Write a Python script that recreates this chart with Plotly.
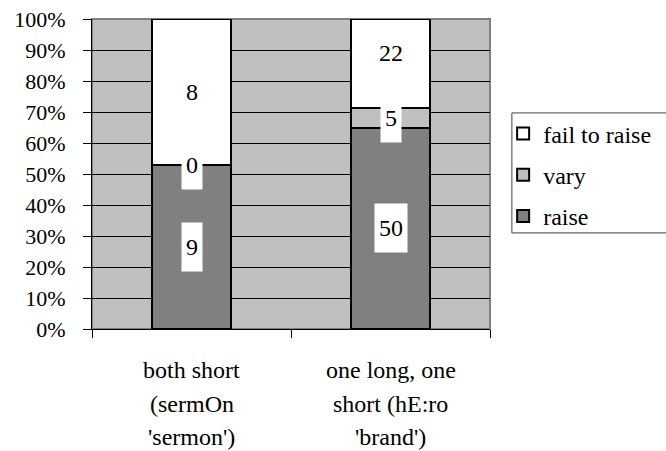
import plotly.graph_objects as go

# DATA ######################################################################
categories = ["both short", "one long, one short"]
category_lines = [
    ["both short", "(sermOn", "'sermon')"],
    ["one long, one", "short (hE:ro", "'brand')"],
]
series_names = ["raise", "vary", "fail to raise"]
raise_counts = [9, 50]
vary_counts = [0, 5]
fail_counts = [8, 22]
series_values = [raise_counts, vary_counts, fail_counts]
series_colors = ["#808080", "#C0C0C0", "#FFFFFF"]

# no serif face in the sandbox, so this falls back to Liberation Sans
FONT = "Liberation Serif, Liberation Sans, sans-serif"

fig = go.Figure()

for k, (name, vals, col) in enumerate(zip(series_names, series_values, series_colors)):
    fig.add_trace(go.Bar(
        x=categories, y=vals, name=name,
        marker=dict(color=col, line=dict(color="black", width=2)),
        legendgroup=name, legendrank=len(series_names) - k,
    ))

# data labels: white boxes at the middle of each stacked segment
totals = [sum(v[i] for v in series_values) for i in range(len(categories))]
label_nudge = {(2, 1): 10}  # Excel put the "22" label a bit higher
for i, cat in enumerate(categories):
    base = 0.0
    for s, vals in enumerate(series_values):
        share = 100.0 * vals[i] / totals[i]
        fig.add_annotation(
            x=cat, y=base + share / 2, xref="x", yref="y",
            text=str(vals[i]), showarrow=False,
            font=dict(family=FONT, size=24, color="black"),
            bgcolor="white", borderpad=4, height=40,
            yshift=label_nudge.get((s, i), 0),
        )
        base += share

# category labels, one annotation per line to get Excel-like line spacing
for cat, lines in zip(categories, category_lines):
    for k, line in enumerate(lines):
        fig.add_annotation(
            x=cat, y=0, xref="x", yref="paper", yanchor="middle",
            text=line, showarrow=False, yshift=-41 - 33.5 * k,
            font=dict(family=FONT, size=24, color="black"),
        )

# plot border (top/right grey) and legend frame
fig.add_shape(type="rect", xref="paper", yref="paper", x0=0, x1=1, y0=0, y1=1,
              line=dict(color="#808080", width=2), layer="below")
fig.add_shape(type="rect", xref="paper", yref="paper",
              x0=1.055, x1=1.5, y0=0.31, y1=0.697,
              line=dict(color="#404040", width=1))

fig.update_layout(
    width=666, height=451,
    margin=dict(l=92, r=176, t=19, b=122, autoexpand=False),
    barmode="stack", barnorm="percent", bargap=0.6,
    plot_bgcolor="#C0C0C0", paper_bgcolor="white",
    font=dict(family=FONT, size=22, color="black"),
    showlegend=True,
    legend=dict(
        x=1.033, xanchor="left", y=0.497, yanchor="middle",
        traceorder="grouped", tracegroupgap=7,
        font=dict(family=FONT, size=24, color="black"),
        bgcolor="rgba(0,0,0,0)", borderwidth=0,
    ),
    xaxis=dict(
        type="category", showticklabels=False, tickson="boundaries",
        ticks="outside", ticklen=8, tickcolor="black",
        showline=True, linecolor="black", linewidth=1, showgrid=False,
    ),
    yaxis=dict(
        range=[0, 100], dtick=10, ticksuffix="%", automargin=False,
        ticks="outside", ticklen=8, tickcolor="black", ticklabelstandoff=13,
        showline=True, linecolor="black", linewidth=1,
        showgrid=True, gridcolor="black", gridwidth=1, zeroline=False,
        tickfont=dict(family=FONT, size=22),
    ),
)

fig.write_html("out.html", config={"displayModeBar": False},
               post_script="document.body.style.margin='0';")
